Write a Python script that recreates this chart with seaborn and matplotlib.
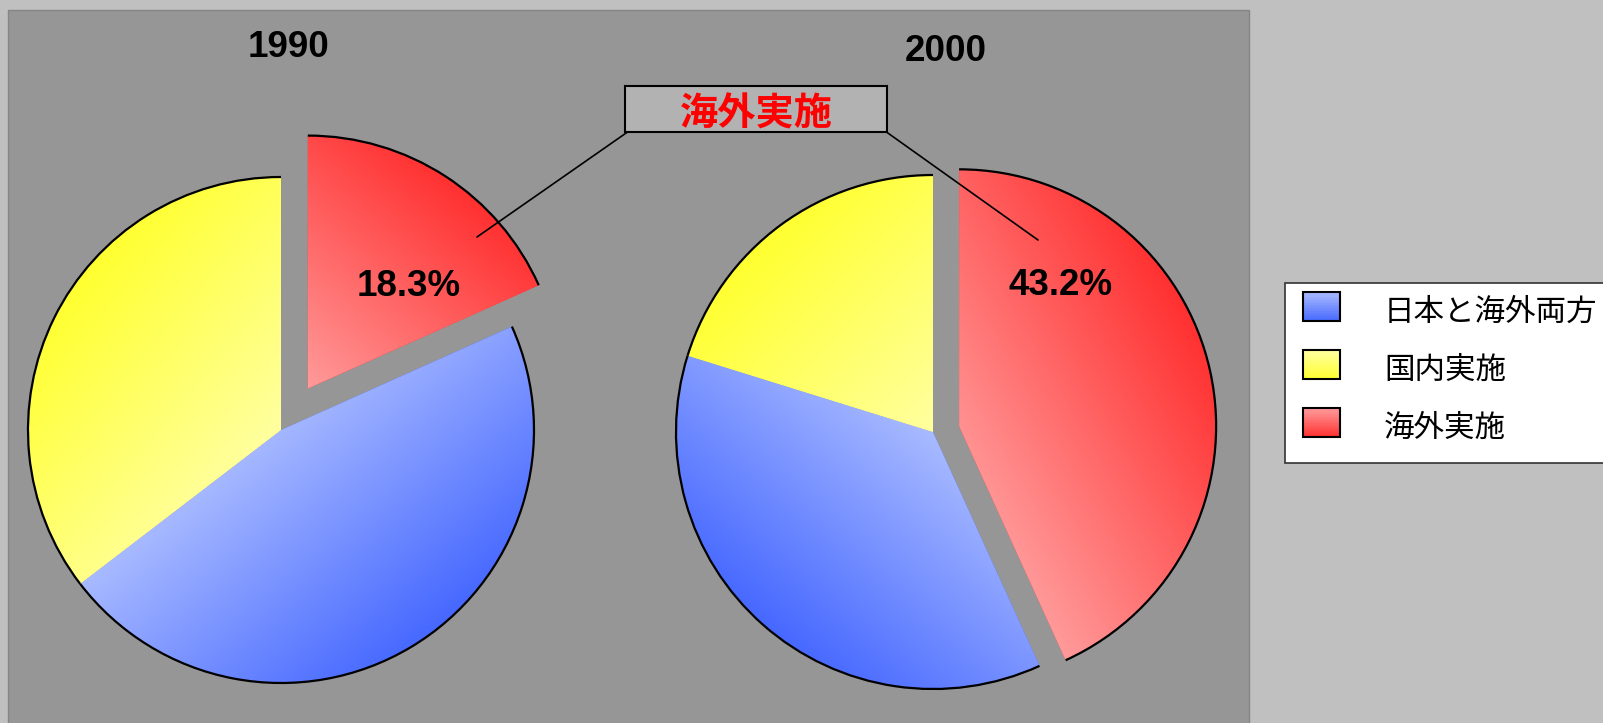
import numpy as np
import matplotlib
matplotlib.use("Agg")
import matplotlib.pyplot as plt
import seaborn as sns
from matplotlib.patches import Rectangle, Arc
from matplotlib.legend_handler import HandlerBase
from matplotlib.colors import to_rgb

# ---------------- data ----------------
categories = ["日本と海外両方", "国内実施", "海外実施"]
years = ["1990", "2000"]
values_1990 = [46.3, 35.4, 18.3]
values_2000 = [36.6, 20.2, 43.2]
callout_label = "海外実施"

# ---------------- style ----------------
W, H = 1603, 723
sns.set_theme(style="white")
plt.rcParams["font.family"] = ["Liberation Sans", "Noto Sans CJK JP", "DejaVu Sans"]

grad_light = ["#a8baff", "#ffffa0", "#ff9a9a"]
grad_sat = ["#4668ff", "#ffff30", "#ff3030"]
pie_order = [2, 0, 1]          # clockwise from 12 o'clock: red, blue, yellow
explode_idx = 2

pie_specs = [
    dict(cx=281, cy=430, r=253, explode=0.195, grad=[140, 310, 40],
         title_xy=(288, 57), pct_xy=(408.5, 296)),
    dict(cx=933, cy=432, r=257, explode=0.104, grad=[220, 315, 60],
         title_xy=(946, 61), pct_xy=(1061, 295)),
]

fig = plt.figure(figsize=(W / 100, H / 100), dpi=100, facecolor="#c0c0c0")

bg = fig.add_axes([0, 0, 1, 1], zorder=0)
bg.set_xlim(0, W)
bg.set_ylim(0, H)
bg.axis("off")
bg.add_patch(Rectangle((8, -5), 1249 - 8, (H - 10) + 5, facecolor="#969696",
                       edgecolor="#858585", lw=1.0))

L = 1.4
all_wedges = []
for vals, spec in zip([values_1990, values_2000], pie_specs):
    cx, cy, r = spec["cx"], spec["cy"], spec["r"]
    ax = fig.add_axes([(cx - L * r) / W, (H - cy - L * r) / H, 2 * L * r / W, 2 * L * r / H],
                      zorder=1)
    ax.patch.set_alpha(0)
    wedges, _ = ax.pie([vals[i] for i in pie_order],
                       explode=[spec["explode"] if i == explode_idx else 0 for i in pie_order],
                       colors=[grad_sat[i] for i in pie_order],
                       startangle=90, counterclock=False, radius=1,
                       wedgeprops=dict(linewidth=0))
    wmap = {}
    for k, w in zip(pie_order, wedges):
        wmap[k] = w
        cxw, cyw = w.center
        rw = w.r
        n = 500
        xs = np.linspace(cxw - rw, cxw + rw, n)
        ys = np.linspace(cyw - rw, cyw + rw, n)
        X, Y = np.meshgrid(xs, ys)
        ang = np.degrees(np.arctan2(Y - cyw, X - cxw))
        inside = (np.hypot(X - cxw, Y - cyw) <= rw) & \
                 (((ang - w.theta1) % 360) <= (w.theta2 - w.theta1))
        phi = np.radians(spec["grad"][k])
        proj = (X - cxw) * np.sin(phi) + (Y - cyw) * np.cos(phi)
        pmin, pmax = proj[inside].min(), proj[inside].max()
        t = np.clip((proj - pmin) / (pmax - pmin), 0, 1)
        lo = np.array(to_rgb(grad_light[k]))
        hi = np.array(to_rgb(grad_sat[k]))
        rgb = lo + (hi - lo) * t[..., None]
        im = ax.imshow(rgb, extent=(cxw - rw, cxw + rw, cyw - rw, cyw + rw),
                       origin="lower", interpolation="bilinear", zorder=2)
        im.set_clip_path(w)
        ax.add_patch(Arc((cxw, cyw), 2 * rw, 2 * rw, theta1=w.theta1, theta2=w.theta2,
                         lw=1.6, color="black", zorder=3))
    ax.set_xlim(-L, L)
    ax.set_ylim(-L, L)
    ax.set_aspect("auto")
    ax.axis("off")
    all_wedges.append(wmap)

# ---------------- overlay: titles, labels, callout, legend ----------------
top = fig.add_axes([0, 0, 1, 1], zorder=5)
top.patch.set_alpha(0)
top.set_xlim(0, W)
top.set_ylim(0, H)
top.axis("off")

for yr, vals, spec in zip(years, [values_1990, values_2000], pie_specs):
    tx, ty = spec["title_xy"]
    top.text(tx, H - ty, yr, ha="center", va="baseline", fontsize=26.5,
             fontweight="bold", color="black", family="Liberation Sans")
    px, py = spec["pct_xy"]
    top.text(px, H - py, f"{vals[explode_idx]:.1f}%", ha="center", va="baseline",
             fontsize=26.5, fontweight="bold", color="black", family="Liberation Sans")

# callout box and leader lines
top.add_patch(Rectangle((625, H - 131.7), 887.3 - 625, 46, facecolor="#b2b2b2",
                        edgecolor="black", lw=1.5))
top.text(756, H - 125, callout_label, ha="center", va="baseline", fontsize=27.5,
         fontweight="bold", color="#ff0000", family=["Noto Sans CJK JP", "DejaVu Sans"])
top.plot([628, 477], [H - 131.7, H - 237], color="black", lw=1.2)
top.plot([886, 1038], [H - 131.7, H - 240], color="black", lw=1.2)

# legend frame
top.add_patch(Rectangle((1285, H - 463), 400, 180, facecolor="white",
                        edgecolor="#333333", lw=1.2, zorder=1))

PX2PT = 0.72  # 1 px at 100 dpi in points


class GradHandler(HandlerBase):
    def __init__(self, lo, hi):
        super().__init__()
        self.lo = np.array(to_rgb(lo))
        self.hi = np.array(to_rgb(hi))

    def create_artists(self, legend, orig_handle, xdescent, ydescent, width, height,
                       fontsize, trans):
        x0 = -xdescent + width * (12 / 49)
        w = width * 37 / 49
        h = 29 * PX2PT
        yc = 13.4 * PX2PT            # centre of swatch above text baseline
        y0 = yc - h / 2
        arts = []
        n = 14
        for i in range(n):
            tt = (i + 0.5) / n
            c = self.lo + (self.hi - self.lo) * tt
            arts.append(Rectangle((x0, y0 + h * (1 - (i + 1) / n)), w, h / n + 0.05,
                                  facecolor=c, edgecolor="none", transform=trans))
        arts.append(Rectangle((x0, y0), w, h, fill=False, edgecolor="black", lw=1.5,
                              transform=trans))
        return arts


fs_px = 22 / PX2PT
handles = [all_wedges[0][k] for k in range(3)]
hmap = {handles[k]: GradHandler(grad_light[k], grad_sat[k]) for k in range(3)}
leg = top.legend(handles, categories, handler_map=hmap, loc="upper left",
                 bbox_to_anchor=(1291, H - 290.4), bbox_transform=top.transData,
                 frameon=False, borderpad=0, borderaxespad=0,
                 handlelength=49 / fs_px, handleheight=1.637,
                 handletextpad=44 / fs_px, labelspacing=18 / fs_px,
                 prop=dict(family=["Noto Sans CJK JP", "DejaVu Sans"], size=22),
                 labelcolor="black")
leg.set_zorder(6)

fig.savefig("out.png", dpi=100, facecolor=fig.get_facecolor())
